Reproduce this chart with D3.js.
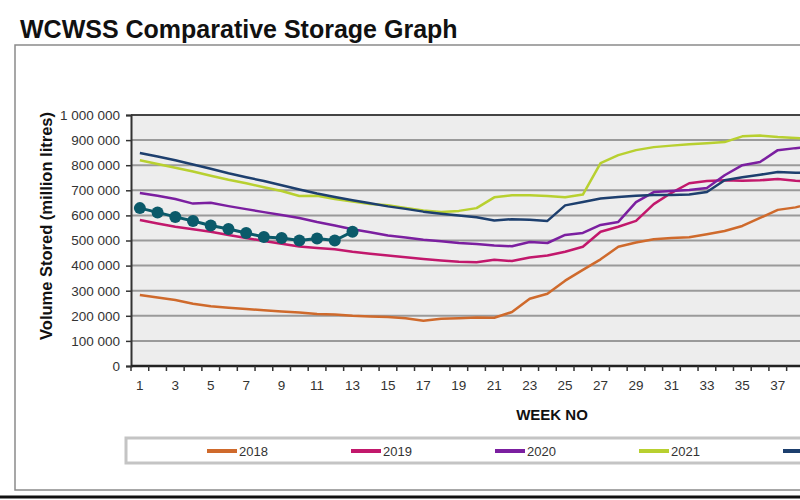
<!DOCTYPE html>
<html>
<head>
<meta charset="utf-8">
<script src="https://cdn.jsdelivr.net/npm/d3@7"></script>
<style>
  body { margin: 0; background: #fff; }
  svg { display: block; font-family: "Liberation Sans", Arial, sans-serif; }
</style>
</head>
<body>
<svg id="chart" width="800" height="500"></svg>
<script>
// weeks on the category axis (the picture is cropped at the right, after week 38)
const weeks = d3.range(1, 53);
const tickWeeks = d3.range(1, 38, 2);
const yTicks = [0, 100000, 200000, 300000, 400000, 500000, 600000, 700000, 800000, 900000, 1000000];

// storage in thousands of million litres
const s2018 = [283, 273, 263, 248, 238, 232, 227, 222, 217, 213, 207, 205, 200, 197, 195, 190, 180, 188, 190, 193, 192, 215, 268, 288, 340, 383, 425, 475, 492, 505, 510, 513, 525, 538, 558, 590, 622, 632, 650];
const s2019 = [582, 568, 555, 545, 535, 522, 510, 498, 487, 476, 470, 465, 455, 447, 440, 433, 426, 420, 415, 413, 423, 418, 432, 440, 455, 475, 535, 555, 578, 645, 690, 728, 737, 740, 738, 740, 745, 738, 735];
const s2020 = [689, 678, 665, 647, 650, 637, 625, 613, 602, 590, 574, 560, 545, 533, 520, 512, 503, 497, 490, 486, 480, 477, 494, 490, 522, 530, 562, 574, 653, 693, 697, 701, 709, 760, 800, 813, 860, 868, 873];
const s2021 = [820, 805, 790, 775, 758, 742, 728, 712, 697, 677, 678, 665, 655, 645, 640, 630, 620, 614, 618, 629, 672, 680, 680, 677, 672, 683, 808, 840, 860, 872, 878, 883, 887, 892, 915, 918, 912, 908, 905];
const s2022 = [849, 835, 820, 803, 786, 768, 752, 737, 720, 703, 687, 673, 660, 648, 636, 626, 615, 607, 600, 593, 580, 585, 583, 578, 640, 653, 667, 673, 678, 681, 681, 683, 693, 740, 752, 762, 773, 770, 769];
const s2023 = [629, 612, 594, 578, 560, 546, 530, 514, 510, 500, 508, 500, 535];

// only the first four legend labels are visible in the cropped picture
const legendNames = ["2018", "2019", "2020", "2021", "", ""];
const seriesValues = [s2018, s2019, s2020, s2021, s2022, s2023];
const colors = ["#cf6a2c", "#c2186c", "#7b1fa0", "#b8d030", "#1d3f6e", "#0b5a6a"];

const svg = d3.select("#chart");

const pLeft = 131, pTop = 115, pBottom = 366, step = 17.72;
const x = d3.scaleBand().domain(weeks).range([pLeft, pLeft + weeks.length * step]);
const y = d3.scaleLinear().domain([0, 1000000]).range([pBottom, pTop]);
const cx = w => x(w) + x.bandwidth() / 2;

// outer frame
svg.append("rect")
  .attr("x", 15).attr("y", 45).attr("width", 900).attr("height", 445)
  .attr("fill", "none").attr("stroke", "#8a8a8a").attr("stroke-width", 1.5);
svg.append("line")
  .attr("x1", 0).attr("x2", 800).attr("y1", 497).attr("y2", 497)
  .attr("stroke", "#111").attr("stroke-width", 3);

svg.append("text")
  .attr("x", 20).attr("y", 38)
  .attr("font-size", 25).attr("font-weight", "bold").attr("fill", "#111")
  .text("WCWSS Comparative Storage Graph");

// plot background
svg.append("rect")
  .attr("x", pLeft).attr("y", pTop)
  .attr("width", weeks.length * step).attr("height", pBottom - pTop)
  .attr("fill", "#ededed");

// gridlines
svg.append("g")
  .selectAll("line")
  .data(yTicks.slice(1))
  .join("line")
  .attr("x1", pLeft).attr("x2", pLeft + weeks.length * step)
  .attr("y1", d => y(d)).attr("y2", d => y(d))
  .attr("stroke", d => d === 1000000 ? "#444" : "#9a9a9a")
  .attr("stroke-width", 2);

// y axis
const fmt = d3.formatLocale({ decimal: ".", thousands: " ", grouping: [3], currency: ["", ""] }).format(",");
const yAxis = svg.append("g")
  .attr("transform", `translate(${pLeft},0)`)
  .call(d3.axisLeft(y).tickValues(yTicks).tickFormat(fmt).tickSize(5).tickPadding(6));
yAxis.select(".domain").attr("stroke", "#333").attr("stroke-width", 2);
yAxis.selectAll(".tick line").attr("stroke", "#333").attr("stroke-width", 1.5);
yAxis.selectAll(".tick text").attr("font-size", 13.5).attr("fill", "#333")
  .attr("font-family", "Liberation Sans, Arial, sans-serif");

// x axis: ticks on category boundaries, labels on odd weeks
const xAxisG = svg.append("g").attr("transform", `translate(0,${pBottom})`);
xAxisG.append("line")
  .attr("x1", pLeft).attr("x2", pLeft + weeks.length * step)
  .attr("stroke", "#222").attr("stroke-width", 2.5);
xAxisG.selectAll("line.tk")
  .data(weeks)
  .join("line").attr("class", "tk")
  .attr("x1", d => x(d)).attr("x2", d => x(d))
  .attr("y1", 0).attr("y2", 5)
  .attr("stroke", "#333").attr("stroke-width", 1.5);
xAxisG.selectAll("text")
  .data(tickWeeks)
  .join("text")
  .attr("x", d => cx(d)).attr("y", 24)
  .attr("text-anchor", "middle").attr("font-size", 13.5).attr("fill", "#333")
  .text(d => d);

svg.append("text")
  .attr("x", 552).attr("y", 420)
  .attr("text-anchor", "middle").attr("font-size", 15).attr("font-weight", "bold").attr("fill", "#111")
  .text("WEEK NO");

svg.append("text")
  .attr("transform", "translate(52,226) rotate(-90)")
  .attr("text-anchor", "middle").attr("font-size", 16.5).attr("font-weight", "bold").attr("fill", "#111")
  .text("Volume Stored (million litres)");

// lines
const line = d3.line()
  .x((d, i) => cx(weeks[i]))
  .y(d => y(d * 1000));

seriesValues.forEach((vals, k) => {
  svg.append("path")
    .datum(vals)
    .attr("fill", "none")
    .attr("stroke", colors[k])
    .attr("stroke-width", k === 5 ? 3 : 2.5)
    .attr("stroke-linejoin", "round")
    .attr("d", line);
});

svg.append("g")
  .selectAll("circle")
  .data(s2023)
  .join("circle")
  .attr("cx", (d, i) => cx(weeks[i]))
  .attr("cy", d => y(d * 1000))
  .attr("r", 6)
  .attr("fill", colors[5]);

// legend
svg.append("rect")
  .attr("x", 126).attr("y", 438).attr("width", 800).attr("height", 25)
  .attr("fill", "#fff").attr("stroke", "#c4c4c4").attr("stroke-width", 3);
const lg = svg.append("g")
  .selectAll("g")
  .data(legendNames)
  .join("g")
  .attr("transform", (d, i) => `translate(${207 + i * 144},451)`);
lg.append("line")
  .attr("x1", 0).attr("x2", 30)
  .attr("stroke", (d, i) => colors[i]).attr("stroke-width", 4);
lg.filter(d => d !== "").append("text")
  .attr("x", 32).attr("y", 5)
  .attr("font-size", 13).attr("fill", "#333")
  .text(d => d);
</script>
</body>
</html>
